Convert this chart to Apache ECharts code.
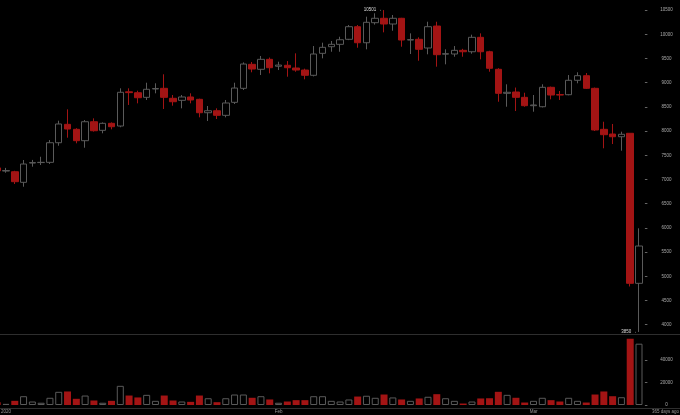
<!DOCTYPE html>
<html><head><meta charset="utf-8">
<script src="https://cdn.jsdelivr.net/npm/echarts@6/dist/echarts.min.js"></script>
<style>html,body{margin:0;padding:0;background:#000}#c{width:680px;height:415px}</style>
</head><body><div id="c"></div>
<script>
const dates = ['2019-12-31',
'2020-01-01','2020-01-02','2020-01-03','2020-01-04','2020-01-05','2020-01-06','2020-01-07','2020-01-08','2020-01-09','2020-01-10',
'2020-01-11','2020-01-12','2020-01-13','2020-01-14','2020-01-15','2020-01-16','2020-01-17','2020-01-18','2020-01-19','2020-01-20',
'2020-01-21','2020-01-22','2020-01-23','2020-01-24','2020-01-25','2020-01-26','2020-01-27','2020-01-28','2020-01-29','2020-01-30','2020-01-31',
'2020-02-01','2020-02-02','2020-02-03','2020-02-04','2020-02-05','2020-02-06','2020-02-07','2020-02-08','2020-02-09','2020-02-10',
'2020-02-11','2020-02-12','2020-02-13','2020-02-14','2020-02-15','2020-02-16','2020-02-17','2020-02-18','2020-02-19','2020-02-20',
'2020-02-21','2020-02-22','2020-02-23','2020-02-24','2020-02-25','2020-02-26','2020-02-27','2020-02-28','2020-02-29',
'2020-03-01','2020-03-02','2020-03-03','2020-03-04','2020-03-05','2020-03-06','2020-03-07','2020-03-08','2020-03-09','2020-03-10',
'2020-03-11','2020-03-12','2020-03-13'];
const opens = [7240,
7175,7161,6942,7340,7350,7355,7760,8140,8037,7802,
8194,8016,8161,8105,8812,8793,8698,8870,8884,8678,
8636,8705,8657,8380,8421,8326,8595,8884,9380,9277,9483,
9340,9360,9304,9262,9153,9607,9744,9793,9897,10157,
9826,10240,10331,10213,10331,9882,9897,9717,10171,9590,
9593,9669,9640,9938,9640,9277,8781,8808,8698,
8525,8504,8905,8755,8752,9050,9145,8884,8037,7940,
7884,7955,4855];
const closes = [7180,
7185,6955,7320,7350,7355,7760,8147,8043,7802,8194,
8008,8161,8091,8802,8795,8690,8864,8880,8698,8607,
8705,8643,8380,8421,8326,8581,8890,9386,9283,9483,9310,
9365,9310,9262,9153,9593,9731,9793,9888,10157,9826,
10248,10331,10213,10331,9882,9890,9690,10157,9579,9600,
9669,9640,9938,9640,9298,8781,8802,8698,8525,
8540,8905,8746,8745,9050,9145,8884,8023,7926,7884,
7934,4855,5626];
const lows = [7150,
7140,6907,6851,7265,7300,7320,7698,7864,7748,7657,
7990,7955,8037,8080,8540,8574,8643,8781,8457,8525,
8471,8574,8285,8209,8250,8285,8560,8850,9215,9159,9194,
9262,9124,9227,9070,9130,9504,9640,9640,9880,9723,
9690,10200,10041,10074,9744,9593,9454,9587,9331,9380,
9537,9537,9600,9483,9227,8607,8504,8415,8504,
8401,8490,8657,8643,8740,8988,8870,8002,7645,7733,
7595,4790,3850];
const highs = [7260,
7240,7180,7403,7405,7470,7816,8215,8450,8060,8229,
8264,8180,8180,8884,8884,8835,9000,8988,9174,8746,
8746,8781,8670,8519,8471,8643,9000,9420,9428,9552,9520,
9434,9448,9607,9290,9758,9827,9862,9950,10192,10192,
10364,10434,10501,10399,10340,10020,9938,10260,10260,9690,
9758,9700,9992,10020,9660,9300,8967,8900,8793,
8746,8967,8920,8829,9159,9215,9200,8900,8194,8147,
7988,7960,5992];
const volumes = [2500,
1000,3700,7800,3100,2000,6400,11700,12000,5500,8400,
4000,2000,3700,17000,8400,6700,9000,3700,8400,4000,
3100,2800,8400,6000,2500,6000,9300,9300,6400,7800,4900,
2000,3100,4300,4300,7800,7800,3700,3100,4900,7500,
8200,6400,9300,6700,4900,3700,5800,7300,9600,6000,
3700,1300,3100,5800,6000,11700,9000,6400,2200,
3700,6400,4300,3100,6400,3700,2200,9300,12000,7800,
6900,58800,54400];
const priceTicks = [4000,4500,5000,5500,6000,6500,7000,7500,8000,8500,9000,9500,10000,10500];
const volumeTicks = [0,20000,40000];
const monthLabels = {'2020-01-01':'2020','2020-02-01':'Feb','2020-03-01':'Mar'};

const DOWN = '#a31414', UP_BORDER = '#5a5a5a', FONT = 'Liberation Sans';
const candles = dates.map((d,i)=>[opens[i],closes[i],lows[i],highs[i]]);
const volData = volumes.map((v,i)=>({value:v, itemStyle: closes[i]>=opens[i]
  ? {color:'#000', borderColor:UP_BORDER, borderWidth:1}
  : {color:DOWN, borderWidth:0}}));

const chart = echarts.init(document.getElementById('c'));
const yLabel = {color:'#aaa', fontSize:4.5, fontFamily:FONT, align:'center', margin:21.6, formatter:v=>String(v)};
chart.setOption({
  animation:false,
  backgroundColor:'#000',
  grid:[
    {left:-7.2, right:36.6, top:0, bottom:81, outerBoundsMode:'none', containLabel:false},
    {left:-7.2, right:36.6, top:334, bottom:10, outerBoundsMode:'none', containLabel:false}
  ],
  xAxis:[
    {type:'category', gridIndex:0, data:dates, boundaryGap:true, show:false},
    {type:'category', gridIndex:1, data:dates, boundaryGap:true,
     axisLine:{show:false}, axisTick:{show:false},
     axisLabel:{color:'#999', fontSize:4.5, fontFamily:FONT, margin:4,
       interval:(i,v)=>v in monthLabels, formatter:v=>monthLabels[v]||''}}
  ],
  yAxis:[
    {type:'value', gridIndex:0, position:'right', min:3808, max:10709, offset:1.5,
     splitLine:{show:false}, axisLine:{show:false},
     axisTick:{show:true, length:2.5, lineStyle:{color:'#666'}, customValues:priceTicks},
     axisLabel:Object.assign({customValues:priceTicks}, yLabel)},
    {type:'value', gridIndex:1, position:'right', min:0, max:63000, offset:1.5,
     splitLine:{show:false}, axisLine:{show:false},
     axisTick:{show:true, length:2.5, lineStyle:{color:'#666'}, customValues:volumeTicks},
     axisLabel:Object.assign({customValues:volumeTicks}, yLabel)}
  ],
  series:[
    {type:'candlestick', xAxisIndex:0, yAxisIndex:0, data:candles, barWidth:7,
     itemStyle:{color:'#000', color0:DOWN, borderColor:UP_BORDER, borderColor0:DOWN, borderWidth:1},
     markPoint:{symbol:'rect', symbolSize:[0.1,0.1], itemStyle:{color:'rgba(0,0,0,0)'},
       label:{show:true, position:'left', distance:2, color:'#ddd', fontSize:4.5, fontFamily:FONT,
         formatter:p=>p.value+' \u2192'},
       data:[{type:'max', valueDim:'highest'},{type:'min', valueDim:'lowest'}]}},
    {type:'bar', xAxisIndex:1, yAxisIndex:1, data:volData, barWidth:7}
  ],
  graphic:[
    {type:'line', shape:{x1:0,y1:334.5,x2:680,y2:334.5}, style:{stroke:'#2e2e2e', lineWidth:1}},
    {type:'line', shape:{x1:0,y1:408.5,x2:680,y2:408.5}, style:{stroke:'#2e2e2e', lineWidth:1}},
    {type:'text', right:1, top:409.5, style:{text:'365 days ago', fill:'#999', fontSize:4.5, fontFamily:FONT}}
  ]
});
</script></body></html>
